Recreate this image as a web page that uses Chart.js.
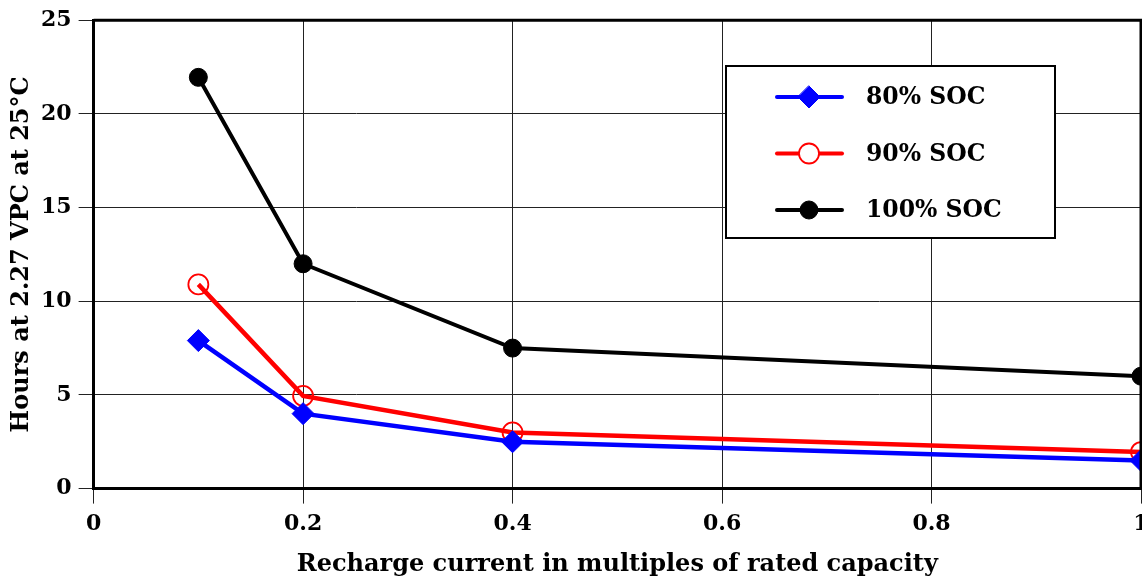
<!DOCTYPE html>
<html>
<head>
<meta charset="utf-8">
<script src="https://cdn.jsdelivr.net/npm/chart.js@4"></script>
<style>
  html, body { margin: 0; padding: 0; background: #fff; overflow: hidden; }
  #wrap { width: 1142px; height: 577px; overflow: hidden; position: relative; }
  #box { width: 1200px; height: 577px; }
</style>
</head>
<body>
<div id="wrap"><div id="box"><canvas id="chart"></canvas></div></div>
<script>
/* ── Data ── */
const current  = [0.1, 0.2, 0.4, 1];
const soc80    = [7.9, 4.0, 2.5, 1.5];
const soc90    = [10.9, 4.95, 3.0, 1.95];
const soc100   = [21.95, 12.0, 7.5, 6.0];
const labels   = ['80% SOC', '90% SOC', '100% SOC'];
const xTicks   = [0, 0.2, 0.4, 0.6, 0.8, 1];
const yTicks   = [0, 5, 10, 15, 20, 25];

const FONT = "'DejaVu Serif', serif";

const pts = ys => current.map((x, i) => ({ x, y: ys[i] }));

// ── Frame (top/right border) + legend box ──
const framePlugin = {
  id: 'frame',
  afterDraw(chart) {
    const { ctx, chartArea: a } = chart;
    ctx.save();
    ctx.strokeStyle = '#000';
    ctx.lineWidth = 3;
    ctx.beginPath();
    ctx.moveTo(a.left, a.top);
    ctx.lineTo(a.right, a.top);
    ctx.lineTo(a.right, a.bottom);
    ctx.stroke();

    // legend
    const bx = 726, by = 66, bw = 329, bh = 172;
    ctx.fillStyle = '#fff';
    ctx.fillRect(bx, by, bw, bh);
    ctx.lineWidth = 2;
    ctx.strokeRect(bx, by, bw, bh);

    chart.data.datasets.forEach((ds, i) => {
      const y = 97 + i * 56.5;
      ctx.strokeStyle = ds.borderColor;
      ctx.lineWidth = 4;
      ctx.lineCap = 'round';
      ctx.beginPath();
      ctx.moveTo(777, y);
      ctx.lineTo(842, y);
      ctx.stroke();

      ctx.fillStyle = ds.label === labels[1] ? '#fff' : ds.pointBackgroundColor;
      ctx.strokeStyle = ds.pointBorderColor;
      ctx.lineWidth = ds.pointBorderWidth;
      ctx.beginPath();
      if (ds.pointStyle === 'rectRot') {
        const r = ds.pointRadius;
        ctx.moveTo(809, y - r); ctx.lineTo(809 + r, y); ctx.lineTo(809, y + r); ctx.lineTo(809 - r, y); ctx.closePath();
      } else {
        ctx.arc(809, y, ds.pointRadius, 0, Math.PI * 2);
      }
      ctx.fill();
      ctx.stroke();

      ctx.fillStyle = '#000';
      ctx.font = 'bold 23.5px ' + FONT;
      ctx.textBaseline = 'middle';
      ctx.textAlign = 'left';
      ctx.fillText(ds.label, 866, y + 1);
    });
    ctx.restore();
  }
};

new Chart(document.getElementById('chart'), {
  type: 'line',
  data: {
    datasets: [
      {
        label: labels[0], data: pts(soc80),
        borderColor: '#0000ff', borderWidth: 4.5,
        pointStyle: 'rectRot', pointRadius: 11,
        pointBackgroundColor: '#0000ff', pointBorderColor: '#0000ff', pointBorderWidth: 1,
      },
      {
        label: labels[1], data: pts(soc90),
        borderColor: '#ff0000', borderWidth: 4.5,
        pointStyle: 'circle', pointRadius: 10,
        pointBackgroundColor: 'rgba(0,0,0,0)', pointBorderColor: '#ff0000', pointBorderWidth: 1.8,
      },
      {
        label: labels[2], data: pts(soc100),
        borderColor: '#000', borderWidth: 4,
        pointStyle: 'circle', pointRadius: 9,
        pointBackgroundColor: '#000', pointBorderColor: '#000', pointBorderWidth: 1,
      },
    ],
  },
  options: {
    responsive: true,
    maintainAspectRatio: false,
    animation: false,
    clip: false,
    layout: { padding: { top: 10, right: 59, left: 1, bottom: 0 } },
    plugins: { legend: { display: false }, tooltip: { enabled: false } },
    scales: {
      x: {
        type: 'linear', min: 0, max: 1,
        afterBuildTicks: s => { s.ticks = xTicks.map(v => ({ value: v })); },
        ticks: { color: '#000', font: { family: FONT, size: 22, weight: 'bold' }, padding: 7, maxRotation: 0,
                 callback: v => String(v) },
        grid: { color: '#222', lineWidth: 1, tickLength: 15, tickColor: '#222' },
        border: { color: '#000', width: 3 },
        title: { display: true, text: 'Recharge current in multiples of rated capacity', color: '#000',
                 font: { family: FONT, size: 24, weight: 'bold', lineHeight: 1 }, padding: { top: 9, bottom: 0 } },
      },
      y: {
        min: 0, max: 25,
        afterBuildTicks: s => { s.ticks = yTicks.map(v => ({ value: v })); },
        ticks: { color: '#000', font: { family: FONT, size: 22, weight: 'bold' }, padding: 7 },
        grid: { color: '#222', lineWidth: 1, tickLength: 15, tickColor: '#222' },
        border: { color: '#000', width: 3 },
        title: { display: true, text: 'Hours at 2.27 VPC at 25°C', color: '#000',
                 font: { family: FONT, size: 24, weight: 'bold', lineHeight: 1 }, padding: { top: 9, bottom: 0 } },
      },
    },
  },
  plugins: [framePlugin],
});
</script>
</body>
</html>
